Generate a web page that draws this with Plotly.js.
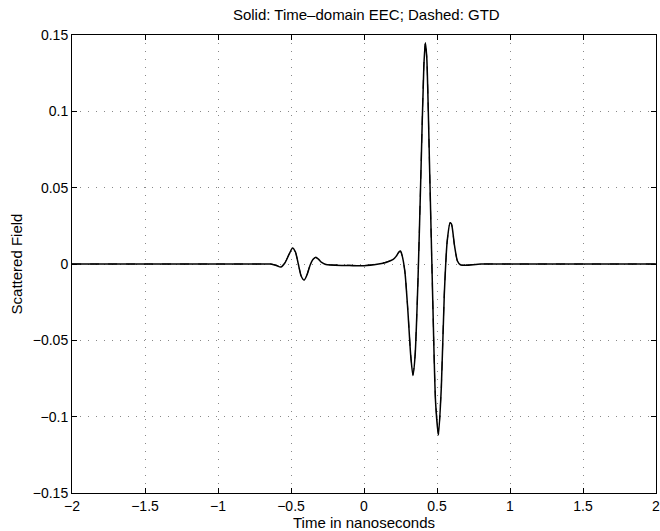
<!DOCTYPE html>
<html>
<head>
<meta charset="utf-8">
<script src="https://cdn.plot.ly/plotly-3.0.1.min.js"></script>
<style>html,body{margin:0;padding:0;background:#fff;}#chart{width:660px;height:531px;}</style>
</head>
<body>
<div id="chart"></div>
<script>
// Time samples (ns) and field values
const timeNs = [-2, -1.5, -1, -0.7, -0.64, -0.6, -0.57, -0.54, -0.51, -0.49, -0.47, -0.45, -0.43, -0.41, -0.39, -0.37, -0.35, -0.33, -0.31, -0.29, -0.27, -0.25, -0.2, -0.1, 0, 0.1, 0.15, 0.2, 0.22, 0.24, 0.25, 0.26, 0.28, 0.3, 0.32, 0.335, 0.35, 0.37, 0.39, 0.41, 0.42, 0.43, 0.45, 0.47, 0.49, 0.51, 0.53, 0.55, 0.57, 0.59, 0.6, 0.62, 0.64, 0.66, 0.7, 0.8, 1, 1.5, 2];
const eecField = [0, 0, 0, 0, 0, -0.001, -0.002, 0.001, 0.007, 0.0105, 0.008, 0.0, -0.008, -0.0105, -0.007, -0.001, 0.003, 0.0045, 0.003, 0.001, 0.0, -0.0005, -0.0008, -0.001, -0.0012, 0.0, 0.001, 0.003, 0.005, 0.008, 0.0085, 0.006, -0.005, -0.03, -0.06, -0.073, -0.06, -0.01, 0.06, 0.13, 0.145, 0.135, 0.06, -0.02, -0.09, -0.112, -0.08, -0.02, 0.015, 0.027, 0.026, 0.012, 0.002, -0.0005, -0.0008, 0, 0, 0, 0];
const gtdField = [0, 0, 0, 0, 0, -0.0008, -0.0018, 0.0012, 0.0072, 0.0102, 0.0078, 0.0002, -0.0078, -0.0102, -0.0068, -0.0008, 0.0028, 0.0042, 0.0028, 0.0009, 0.0, -0.0004, -0.0006, -0.0008, -0.001, 0.0002, 0.0012, 0.0032, 0.0052, 0.0078, 0.0082, 0.0058, -0.0048, -0.0295, -0.0595, -0.0725, -0.0595, -0.0095, 0.0605, 0.1305, 0.1455, 0.1355, 0.0595, -0.0205, -0.0895, -0.1115, -0.0795, -0.0195, 0.0152, 0.0272, 0.0258, 0.0118, 0.0018, -0.0004, -0.0006, 0, 0, 0, 0];

const xTickVals = [-2, -1.5, -1, -0.5, 0, 0.5, 1, 1.5, 2];
const xTickText = ['\u22122', '\u22121.5', '\u22121', '\u22120.5', '0', '0.5', '1', '1.5', '2'];
const yTickVals = [-0.15, -0.1, -0.05, 0, 0.05, 0.1, 0.15];
const yTickText = ['\u22120.15', '\u22120.1', '\u22120.05', '0', '0.05', '0.1', '0.15'];

const FONT = 'Liberation Sans, Arial, Helvetica, sans-serif';

const traces = [
  {x: timeNs, y: gtdField, mode: 'lines', name: 'GTD',
   line: {color: '#000', width: 1, dash: 'dash', shape: 'spline', smoothing: 0.6}},
  {x: timeNs, y: eecField, mode: 'lines', name: 'Time-domain EEC',
   line: {color: '#000', width: 1.5, shape: 'spline', smoothing: 0.6}}
];

const axisCommon = {
  showline: true, linecolor: '#000', linewidth: 1, mirror: 'ticks',
  ticks: 'inside', ticklen: 5, tickcolor: '#000', tickwidth: 1,
  showgrid: true, gridcolor: '#888', gridwidth: 1, griddash: '1px,7px',
  zeroline: false, tickfont: {family: FONT, size: 14, color: '#000'},
  tickmode: 'array', ticklabeloverflow: 'allow'
};

const layout = {
  width: 660, height: 531,
  margin: {l: 72, r: 4, t: 35, b: 38},
  paper_bgcolor: '#fff', plot_bgcolor: '#fff',
  showlegend: false,
  font: {family: FONT, color: '#000'},
  title: {text: 'Solid: Time\u2013domain EEC; Dashed: GTD', font: {family: FONT, size: 15, color: '#000'},
          x: 0.555, xanchor: 'center', y: 0.972, yanchor: 'middle'},
  xaxis: Object.assign({}, axisCommon, {
    range: [-2, 2], tickvals: xTickVals, ticktext: xTickText,
    title: {text: 'Time in nanoseconds', font: {family: FONT, size: 15, color: '#000'}, standoff: 0}
  }),
  yaxis: Object.assign({}, axisCommon, {
    range: [-0.15, 0.15], tickvals: yTickVals, ticktext: yTickText,
    title: {text: 'Scattered Field', font: {family: FONT, size: 15, color: '#000'}, standoff: 6}
  })
};

Plotly.newPlot('chart', traces, layout, {displayModeBar: false, staticPlot: true});
</script>
</body>
</html>
